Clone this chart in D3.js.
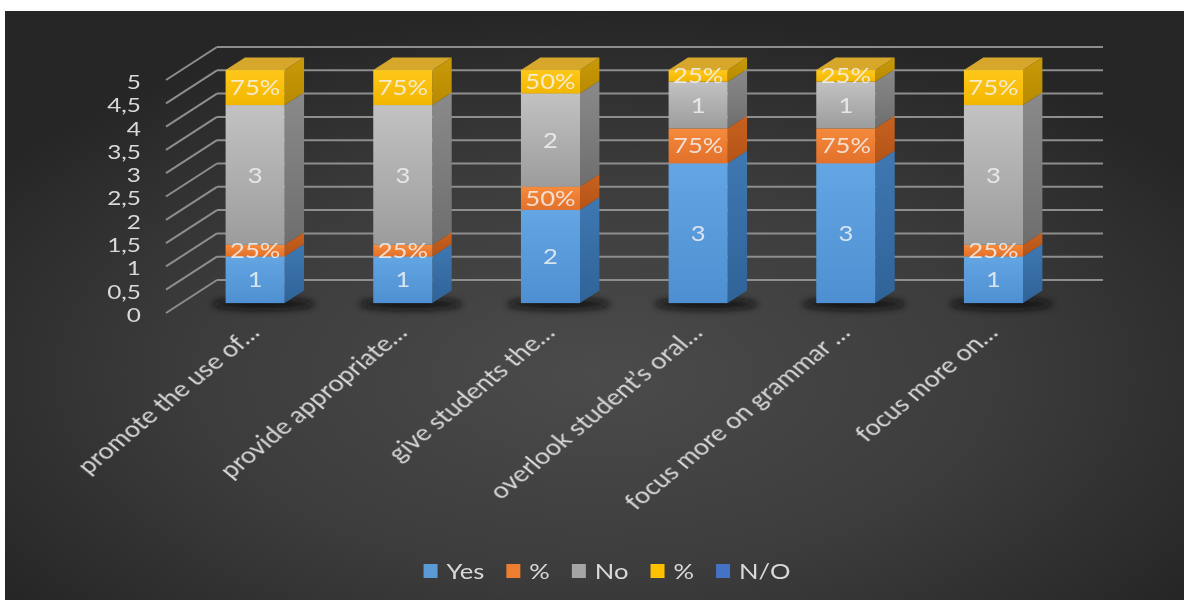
<!DOCTYPE html>
<html>
<head>
<meta charset="utf-8">
<script src="https://cdn.jsdelivr.net/npm/d3@7"></script>
<style>
  html, body { margin: 0; padding: 0; background: #ffffff; }
  svg { display: block; }
  text { font-family: Lato, "Open Sans", sans-serif; }
</style>
</head>
<body>
<svg id="chart" width="1184" height="602"></svg>
<script>
// ---- data ----
const categories = [
  "promote the use of…",
  "provide appropriate…",
  "give students the…",
  "overlook student’s oral…",
  "focus more on grammar …",
  "focus more on…"
];
const seriesNames = ["Yes", "%", "No", "%", "N/O"];
const yesValues        = [1, 1, 2, 3, 3, 1];
const yesShareValues   = [0.25, 0.25, 0.5, 0.75, 0.75, 0.25];
const noValues         = [3, 3, 2, 1, 1, 3];
const noShareValues    = [0.75, 0.75, 0.5, 0.25, 0.25, 0.75];
const noOpinionValues  = [0, 0, 0, 0, 0, 0];
const yTickValues = [0, 0.5, 1, 1.5, 2, 2.5, 3, 3.5, 4, 4.5, 5];
const yTickLabels = ["0", "0,5", "1", "1,5", "2", "2,5", "3", "3,5", "4", "4,5", "5"];

// ---- styling ----
const seriesStyle = [
  { front: ["#64a6e4", "#4d8fd0"], side: ["#3f78b2", "#2f6398"], top: "#7ab3e8", legend: "#5b9bd5", fmt: v => String(v) },
  { front: ["#f58a3c", "#e2702a"], side: ["#c7611f", "#b45418"], top: "#f29a5a", legend: "#ed7d31", fmt: d3.format(".0%") },
  { front: ["#c2c2c2", "#9c9c9c"], side: ["#8a8a8a", "#6e6e6e"], top: "#b5b5b5", legend: "#a5a5a5", fmt: v => String(v) },
  { front: ["#ffc81a", "#f2b600"], side: ["#c99a08", "#b88a00"], top: "#d7a72c", legend: "#ffc000", fmt: d3.format(".0%") },
  { front: ["#5482d4", "#3e68b6"], side: ["#2f579b", "#24488a"], top: "#6a92da", legend: "#4472c4", fmt: v => String(v) }
];
const seriesValues = [yesValues, yesShareValues, noValues, noShareValues, noOpinionValues];

const textColor = "#d9d9d9";
const gridColor = "#8e8e8e";
const SX = 1.22; // horizontal text stretch

const svg = d3.select("#chart");
const defs = svg.append("defs");

// background panel
const bg = defs.append("radialGradient").attr("id", "bgGrad")
  .attr("cx", "50%").attr("cy", "62%").attr("r", "62%");
bg.append("stop").attr("offset", "0%").attr("stop-color", "#4b4b4b");
bg.append("stop").attr("offset", "55%").attr("stop-color", "#3c3c3c");
bg.append("stop").attr("offset", "100%").attr("stop-color", "#262626");
svg.append("rect").attr("x", 5).attr("y", 11).attr("width", 1179).attr("height", 589)
  .attr("fill", "url(#bgGrad)");

// gradients per series
seriesStyle.forEach((s, i) => {
  const f = defs.append("linearGradient").attr("id", "front" + i)
    .attr("x1", 0).attr("y1", 0).attr("x2", 0).attr("y2", 1);
  f.append("stop").attr("offset", "0%").attr("stop-color", s.front[0]);
  f.append("stop").attr("offset", "100%").attr("stop-color", s.front[1]);
  const sd = defs.append("linearGradient").attr("id", "side" + i)
    .attr("x1", 0).attr("y1", 0).attr("x2", 0).attr("y2", 1);
  sd.append("stop").attr("offset", "0%").attr("stop-color", s.side[0]);
  sd.append("stop").attr("offset", "100%").attr("stop-color", s.side[1]);
});
const blur = defs.append("filter").attr("id", "shadowBlur")
  .attr("x", "-50%").attr("y", "-200%").attr("width", "200%").attr("height", "500%");
blur.append("feGaussianBlur").attr("stdDeviation", 3.5);
const soft = defs.append("filter").attr("id", "softText");
soft.append("feGaussianBlur").attr("stdDeviation", 0.35);

// ---- 3D plot geometry ----
const frontLeft = 166, frontRight = 1052;
const depthX = 51, depthY = -33;          // floor depth vector
const barNear = 0.30, barFar = 0.68;      // bar depth slot as fraction of floor depth

const x = d3.scaleBand().domain(categories).range([frontLeft, frontRight])
  .paddingInner(0.6).paddingOuter(0.3);
const y = d3.scaleLinear().domain([0, 5]).range([313, 80]);

const bx = depthX * barNear, by = depthY * barNear;              // bar front-face offset
const bdx = depthX * (barFar - barNear), bdy = depthY * (barFar - barNear); // bar depth

// gridlines: back wall + left wall
const grid = svg.append("g");
grid.selectAll("line.back").data(yTickValues).join("line")
  .attr("x1", frontLeft + depthX).attr("x2", frontRight + depthX)
  .attr("y1", d => y(d) + depthY).attr("y2", d => y(d) + depthY)
  .attr("stroke", gridColor).attr("stroke-width", 2);
grid.selectAll("line.side").data(yTickValues).join("line")
  .attr("x1", frontLeft).attr("x2", frontLeft + depthX)
  .attr("y1", d => y(d)).attr("y2", d => y(d) + depthY)
  .attr("stroke", gridColor).attr("stroke-width", 2);

// y axis labels
const yAxis = d3.axisLeft(y).tickValues(yTickValues)
  .tickFormat((d, i) => yTickLabels[i]).tickSize(0).tickPadding(0);
const yg = svg.append("g").attr("transform", "translate(141,2)").call(yAxis);
yg.select(".domain").remove();
yg.selectAll("text")
  .attr("fill", textColor).attr("font-size", 20)
  .attr("font-family", "Lato, sans-serif")
  .attr("filter", "url(#softText)")
  .attr("transform", `scale(${SX},1)`);

// stacked values
const rows = categories.map((c, i) => {
  const r = { category: c };
  seriesValues.forEach((vals, k) => { r["s" + k] = vals[i]; });
  return r;
});
const stack = d3.stack().keys(seriesValues.map((_, k) => "s" + k));
const layers = stack(rows);

// floor shadows
svg.append("g").selectAll("ellipse").data(categories).join("ellipse")
  .attr("cx", d => x(d) + bx + x.bandwidth() / 2 + 8)
  .attr("cy", y(0) + by + 1)
  .attr("rx", x.bandwidth() / 2 + 22).attr("ry", 6)
  .attr("fill", "#111").attr("opacity", 0.85)
  .attr("filter", "url(#shadowBlur)");

// bars
const bars = svg.append("g");
categories.forEach((cat, ci) => {
  const g = bars.append("g");
  const x0 = x(cat) + bx, x1 = x0 + x.bandwidth();
  let topSeg = null;
  layers.forEach((layer, k) => {
    const seg = layer[ci];
    const v0 = seg[0], v1 = seg[1];
    if (v1 - v0 <= 0) return;
    const yb = y(v0) + by, yt = y(v1) + by;
    // right side face
    g.append("path")
      .attr("d", `M${x1},${yt} L${x1 + bdx},${yt + bdy} L${x1 + bdx},${yb + bdy} L${x1},${yb} Z`)
      .attr("fill", `url(#side${k})`);
    // front face
    g.append("rect").attr("x", x0).attr("y", yt)
      .attr("width", x1 - x0).attr("height", yb - yt)
      .attr("fill", `url(#front${k})`);
    topSeg = { k, yt };
  });
  if (topSeg) {
    const yt = topSeg.yt;
    g.append("path")
      .attr("d", `M${x0},${yt} L${x1},${yt} L${x1 + bdx},${yt + bdy} L${x0 + bdx},${yt + bdy} Z`)
      .attr("fill", seriesStyle[topSeg.k].top);
  }
});

// data labels
const labels = svg.append("g");
layers.forEach((layer, k) => {
  layer.forEach((seg, ci) => {
    const v = seg.data["s" + k];
    if (!v) return;
    const cx = x(categories[ci]) + bx + x.bandwidth() / 2;
    const cy = (y(seg[0]) + y(seg[1])) / 2 + by;
    labels.append("text")
      .attr("transform", `translate(${cx},${cy}) scale(${SX},1)`)
      .attr("text-anchor", "middle").attr("dy", "0.36em")
      .attr("font-size", 21).attr("fill", "#f4f4f4").attr("fill-opacity", 0.82)
      .attr("filter", "url(#softText)")
      .text(seriesStyle[k].fmt(v));
  });
});

// category labels (rotated)
svg.append("g").selectAll("text").data(categories).join("text")
  .attr("transform", d => `translate(${x(d) + bx + x.bandwidth() / 2 + 6},334) scale(${SX},1) rotate(-45)`)
  .attr("text-anchor", "end")
  .attr("font-size", 22).attr("fill", textColor)
  .attr("filter", "url(#softText)")
  .text(d => d);

// legend
const legend = svg.append("g");
const items = legend.selectAll("g").data(seriesNames).join("g");
items.append("rect").attr("width", 14).attr("height", 14).attr("y", -15)
  .attr("fill", (d, i) => seriesStyle[i].legend);
items.append("text").attr("x", 0).attr("y", 0)
  .attr("font-size", 21).attr("fill", textColor)
  .attr("filter", "url(#softText)")
  .attr("transform", `translate(23,0) scale(${SX},1)`)
  .text(d => d);
const widths = [];
items.each(function () {
  const w = 23 + this.querySelector("text").getComputedTextLength() * SX;
  widths.push(w);
});
const gap = 22;
const total = d3.sum(widths) + gap * (widths.length - 1);
const start = 607 - total / 2;
items.attr("transform", (d, i) => {
  const px = start + d3.sum(widths.slice(0, i)) + gap * i;
  return `translate(${px},579)`;
});
</script>
</body>
</html>
